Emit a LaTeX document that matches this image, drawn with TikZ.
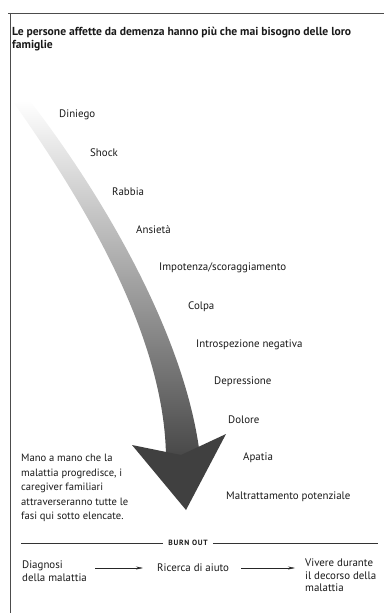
\documentclass[tikz,border=0pt]{standalone}
\usepackage{fontspec}
\setmainfont{PT Sans}
\usepackage{tikz}
\usetikzlibrary{arrows.meta, positioning}
\tikzstyle{arrow} = [black!85, -{Stealth[length=7pt,width=3pt]}]
\tikzstyle{stage} = [anchor=west, inner sep=0pt, font=\fontsize{10.9}{12.5}\selectfont]
\tikzstyle{note} = [anchor=north west, inner sep=0pt, font=\fontsize{10.9}{12.5}\selectfont]
\tikzset{every node/.style={align=left, text=black!90}}

\begin{document}
\begin{tikzpicture}[x=1pt, y=-1pt]
    \useasboundingbox (0,0) rectangle (384,615);
    \draw [black!70, line width=0.8pt] (8,13) -- (384,13);
    \draw [black!70, line width=0.8pt] (10,13) -- (10,613);

    \node (title) [anchor=west, inner sep=0pt, font=\bfseries\fontsize{11.6}{12.5}\selectfont] at (12,39)
        {Le persone affette da demenza hanno più che mai bisogno delle loro\\famiglie};

    \shade [top color=white, middle color=black!35, bottom color=black!72]
        (14,103) .. controls (75,190) and (165,330) .. (166,458) -- (200,456)
        .. controls (185,330) and (95,185) .. (30,101) -- cycle;
    \fill [black!75] (132,445) -- (181,455) -- (226,434) -- (186,510) -- cycle;

    \node (s1)  [stage] at (59,115)  {Diniego};
    \node (s2)  [stage] at (90,153)  {Shock};
    \node (s3)  [stage] at (112,192) {Rabbia};
    \node (s4)  [stage] at (136,230) {Ansietà};
    \node (s5)  [stage] at (159,268) {Impotenza/scoraggiamento};
    \node (s6)  [stage] at (188,307) {Colpa};
    \node (s7)  [stage] at (196,345) {Introspezione negativa};
    \node (s8)  [stage] at (214,382) {Depressione};
    \node (s9)  [stage] at (228,420) {Dolore};
    \node (s10) [stage] at (243,458) {Apatia};
    \node (s11) [stage] at (226,497) {Maltrattamento potenziale};

    \node (mano) [note, font=\fontsize{10.6}{14.5}\selectfont] at (21,454)
        {Mano a mano che la\\malattia progredisce, i\\caregiver familiari\\attraverseranno tutte le\\fasi qui sotto elencate.};

    \coordinate (ruleL) at (21,543);
    \coordinate (ruleR) at (378,543);
    \node (burn) [inner sep=5pt, font=\fontsize{7.6}{8}\selectfont\bfseries\addfontfeature{LetterSpace=10}] at (188,543) {BURN OUT};
    \draw [black!80, line width=0.6pt] (ruleL) -- (burn) -- (ruleR);

    \node (diag)   [note] at (22,561)  {Diagnosi\\della malattia};
    \node (aiuto)  [stage] at (157,568) {Ricerca di aiuto};
    \node (vivere) [note] at (305,559) {Vivere durante\\il decorso della\\malattia};

    \draw [arrow, shorten <=8pt, shorten >=14pt] (diag.east |- aiuto.west) -- (aiuto.west);
    \draw [arrow, shorten <=12pt, shorten >=10pt] (aiuto.east) -- (vivere.west |- aiuto.east);
\end{tikzpicture}
\end{document}
